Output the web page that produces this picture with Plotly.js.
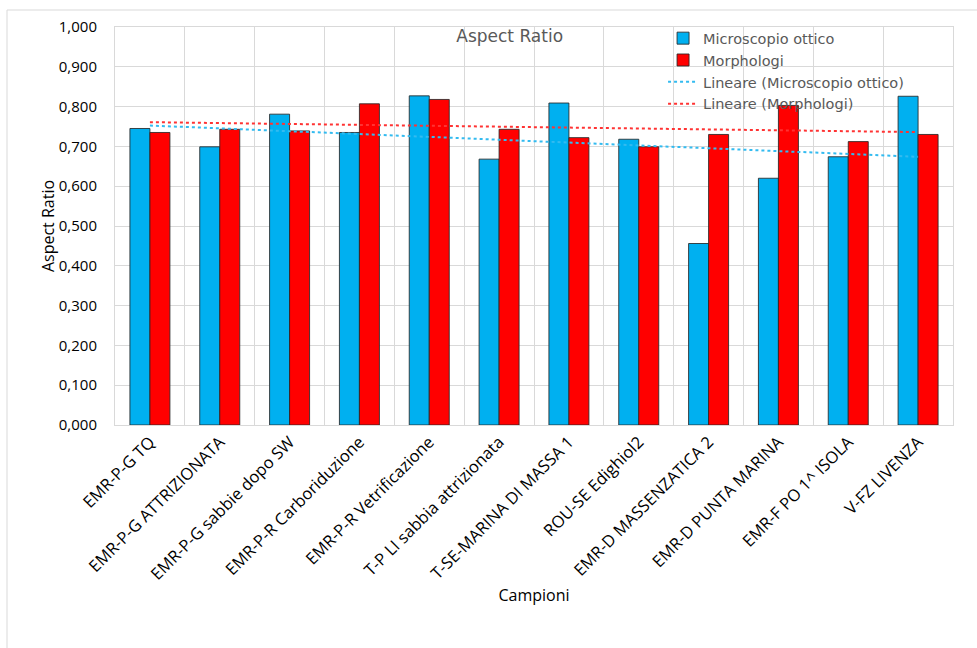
<!DOCTYPE html>
<html>
<head>
<meta charset="utf-8">
<script src="https://cdn.plot.ly/plotly-3.0.1.min.js"></script>
<style>
  html, body { margin: 0; padding: 0; background: #ffffff; }
  #chart { width: 977px; height: 648px; }
</style>
</head>
<body>
<div id="chart"></div>
<script>
// ---- data ----
const categories = [
  "EMR-P-G TQ",
  "EMR-P-G ATTRIZIONATA",
  "EMR-P-G sabbie dopo SW",
  "EMR-P-R Carboriduzione",
  "EMR-P-R Vetrificazione",
  "T-P LI sabbia attrizionata",
  "T-SE-MARINA DI MASSA 1",
  "ROU-SE Edighiol2",
  "EMR-D MASSENZATICA 2",
  "EMR-D PUNTA MARINA",
  "EMR-F PO 1^ ISOLA",
  "V-FZ LIVENZA"
];
const microscopioOttico = [0.745, 0.699, 0.781, 0.735, 0.827, 0.668, 0.809, 0.718, 0.456, 0.620, 0.674, 0.826];
const morphologi        = [0.735, 0.743, 0.739, 0.807, 0.818, 0.743, 0.722, 0.699, 0.730, 0.803, 0.712, 0.730];
const seriesNames = ["Microscopio ottico", "Morphologi"];
const trendNames = ["Lineare (Microscopio ottico)", "Lineare (Morphologi)"];
const yTicks = [0, 0.1, 0.2, 0.3, 0.4, 0.5, 0.6, 0.7, 0.8, 0.9, 1.0];

// Linear (least squares) trendline over category index 1..n, like Excel
function linearFit(values) {
  const n = values.length;
  let sx = 0, sy = 0, sxy = 0, sxx = 0;
  values.forEach((v, i) => { const x = i + 1; sx += x; sy += v; sxy += x * v; sxx += x * x; });
  const slope = (n * sxy - sx * sy) / (n * sxx - sx * sx);
  const intercept = (sy - slope * sx) / n;
  return values.map((v, i) => intercept + slope * (i + 1));
}

const BLUE = "#00B0F0", RED = "#FF0000";

const traces = [
  { type: "bar", name: seriesNames[0], x: categories, y: microscopioOttico,
    marker: { color: BLUE, line: { color: "rgba(40,40,40,0.85)", width: 1 } }, hoverinfo: "x+y" },
  { type: "bar", name: seriesNames[1], x: categories, y: morphologi,
    marker: { color: RED, line: { color: "rgba(40,40,40,0.85)", width: 1 } }, hoverinfo: "x+y" },
  { type: "scatter", mode: "lines", name: trendNames[0], x: categories, y: linearFit(microscopioOttico),
    line: { color: "#33BBF0", width: 2, dash: "dot" } },
  { type: "scatter", mode: "lines", name: trendNames[1], x: categories, y: linearFit(morphologi),
    line: { color: "#FF3333", width: 2, dash: "dot" } }
];

const layout = {
  width: 977, height: 648,
  margin: { l: 115, r: 24, t: 27, b: 223, pad: 0 },
  paper_bgcolor: "#ffffff", plot_bgcolor: "#ffffff",
  separators: ",.",
  barmode: "group",
  bargap: 0.427, bargroupgap: 0,
  showlegend: true,
  title: {
    text: "Aspect Ratio",
    font: { family: "DejaVu Sans", size: 17, color: "#595959" },
    xref: "paper", x: 0.471, xanchor: "center",
    yref: "paper", y: 0.978, yanchor: "middle"
  },
  legend: {
    xref: "paper", yref: "paper", x: 0.654, y: 1.012, xanchor: "left", yanchor: "top",
    bgcolor: "rgba(0,0,0,0)", borderwidth: 0,
    font: { family: "DejaVu Sans", size: 14.5, color: "#595959" },
    tracegroupgap: 0, itemwidth: 30, traceorder: "normal"
  },
  xaxis: {
    type: "category",
    tickson: "boundaries",
    showgrid: true, gridcolor: "#d9d9d9", gridwidth: 1,
    showline: true, linecolor: "#d9d9d9", linewidth: 1, mirror: true,
    ticks: "", tickangle: -45,
    tickfont: { family: "Open Sans", size: 16.5, color: "#000000" },
    title: { text: "Campioni", font: { family: "Open Sans", size: 16, color: "#000000" }, standoff: 4 },
    automargin: false, fixedrange: true
  },
  yaxis: {
    range: [0, 1.0],
    tickvals: yTicks, tickformat: ".3f",
    showgrid: true, gridcolor: "#d9d9d9", gridwidth: 1,
    showline: true, linecolor: "#d9d9d9", linewidth: 1, mirror: true,
    zeroline: false, ticks: "", ticklabelstandoff: 14,
    tickfont: { family: "Open Sans", size: 15, color: "#000000" },
    title: { text: "Aspect Ratio", font: { family: "Open Sans", size: 16, color: "#000000" }, standoff: 0 },
    automargin: false, fixedrange: true
  },
  shapes: [{
    type: "rect", xref: "paper", yref: "paper", layer: "below",
    x0: (7 - 115) / 838, x1: 1.2, y0: -1.0, y1: (425 - 10) / 398,
    line: { color: "#d9d9d9", width: 1 }, fillcolor: "rgba(0,0,0,0)"
  }]
};

Plotly.newPlot("chart", traces, layout, { displayModeBar: false, staticPlot: true });
</script>
</body>
</html>
